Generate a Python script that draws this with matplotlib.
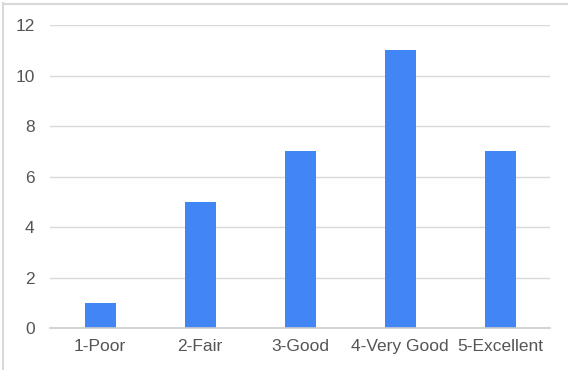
import matplotlib.pyplot as plt
from matplotlib.lines import Line2D

categories = ['1-Poor', '2-Fair', '3-Good', '4-Very Good', '5-Excellent']
counts = [1, 5, 7, 11, 7]
y_ticks = [0, 2, 4, 6, 8, 10, 12]

W, H = 568, 370
fig = plt.figure(figsize=(W / 100, H / 100), dpi=100)
ax = fig.add_axes([50 / W, 1 - 328 / H, 500 / W, (328 - 25) / H])

ax.bar(range(len(categories)), counts, width=0.31, color='#4285F4', zorder=3)
ax.set_xlim(-0.5, len(categories) - 0.5)
ax.set_ylim(0, 12)
ax.set_yticks(y_ticks)
ax.set_xticks(range(len(categories)))
ax.set_xticklabels(categories)

ax.grid(axis='y', color='#d9d9d9', linewidth=1, zorder=0)
for side in ['top', 'right', 'left']:
    ax.spines[side].set_visible(False)
ax.spines['bottom'].set_color('#cccccc')
ax.spines['bottom'].set_linewidth(1.2)
ax.spines['bottom'].set_zorder(4)
ax.tick_params(length=0, labelsize=12.5, labelcolor='#555555')
ax.tick_params(axis='y', pad=11)
ax.tick_params(axis='x', pad=8)
for lbl in ax.get_xticklabels() + ax.get_yticklabels():
    lbl.set_family('Liberation Sans')

# outer frame (top and left edges only visible)
fig.add_artist(Line2D([3 / W, 567 / W], [1 - 3.5 / H, 1 - 3.5 / H], color='#d9d9d9', linewidth=1.5))
fig.add_artist(Line2D([3.5 / W, 3.5 / W], [1 - 3 / H, 1 - 369 / H], color='#d9d9d9', linewidth=1.5))

fig.savefig('out.png', dpi=100)
